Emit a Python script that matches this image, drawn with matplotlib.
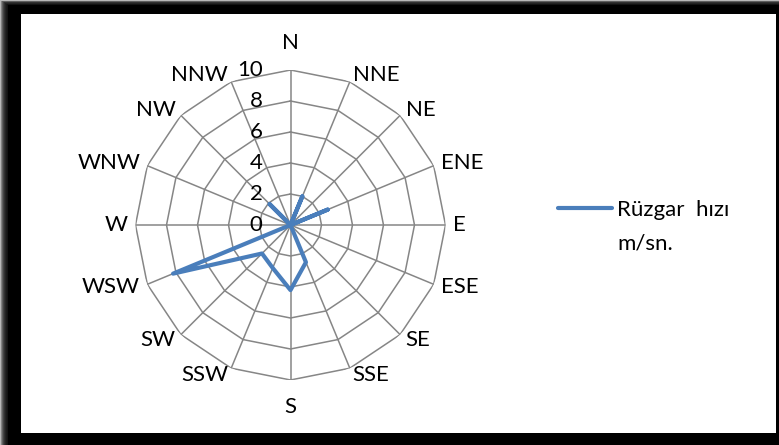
import numpy as np
import matplotlib
matplotlib.use('Agg')
import matplotlib.pyplot as plt
from matplotlib.patches import Rectangle
from matplotlib.lines import Line2D

# Wind speed by direction (m/sn.)
directions = ['N', 'NNE', 'NE', 'ENE', 'E', 'ESE', 'SE', 'SSE',
              'S', 'SSW', 'SW', 'WSW', 'W', 'WNW', 'NW', 'NNW']
speeds = [0, 2.0, 0, 2.6, 0, 0, 0, 2.6, 4.2, 3.0, 2.6, 8.2, 0, 0, 1.9, 0]
rings = [0, 2, 4, 6, 8, 10]
series_name = 'Rüzgar  hızı'
series_unit = 'm/sn.'

plt.rcParams['font.family'] = ['Lato', 'DejaVu Sans']
FS = 16
W, H = 779, 445

fig = plt.figure(figsize=(W / 100, H / 100), dpi=100)
fig.patch.set_facecolor('white')

def px_rect(x0, y0, x1, y1, **kw):
    # rectangle in pixel coords, y measured from top
    return Rectangle((x0 / W, 1 - y1 / H), (x1 - x0) / W, (y1 - y0) / H,
                     transform=fig.transFigure, **kw)

# black frame with soft outer edge
for i in range(9):
    fig.add_artist(px_rect(i, i * 0.6, W, H, facecolor='black',
                           edgecolor='none', alpha=0.28, zorder=0))
fig.add_artist(px_rect(8, 5, W, H, facecolor='black', edgecolor='none', zorder=0))
fig.add_artist(px_rect(21, 14, 776, 433, facecolor='white', edgecolor='none', zorder=0))

# polar axes, centre (290, 225) px, radius 155 px
cx, cy, R = 290.5, 225, 155
ax = fig.add_axes([(cx - R) / W, (H - cy - R) / H, 2 * R / W, 2 * R / H],
                  projection='polar')
ax.set_theta_zero_location('N')
ax.set_theta_direction(-1)
ax.set_ylim(0, 10)
ax.grid(False)
ax.spines['polar'].set_visible(False)
ax.patch.set_alpha(0)
ax.set_xticks([])
ax.set_yticks([])

theta = np.linspace(0, 2 * np.pi, len(directions), endpoint=False)
theta_closed = np.append(theta, theta[0])

grid_col = '#868686'
for r in rings[1:]:
    ax.plot(theta_closed, [r] * len(theta_closed), color=grid_col, lw=1.1, zorder=1)
for t in theta:
    ax.plot([t, t], [0, 10], color=grid_col, lw=1.1, zorder=1)

vals = np.append(speeds, speeds[0])
ax.plot(theta_closed, vals, color='#4a7ebb', lw=3.0, zorder=3,
        solid_joinstyle='round', solid_capstyle='round')

# radial tick labels, left of the N axis
for r in rings:
    ax.annotate(str(r), xy=(0, r), xytext=(-28, 0), textcoords='offset pixels',
                ha='right', va='center', fontsize=FS, zorder=4)

# direction labels
for t, name in zip(theta, directions):
    s, c = np.sin(t), np.cos(t)
    if abs(s) < 0.01:
        ha = 'center'
        va = 'bottom' if c > 0 else 'top'
        rr = 11.1
    else:
        ha = 'left' if s > 0 else 'right'
        va = 'center'
        rr = 10.5
    ax.text(t, rr, name, ha=ha, va=va, fontsize=FS)

# legend
fig.add_artist(Line2D([558 / W, 612 / W], [1 - 208 / H, 1 - 208 / H],
                      color='#4a7ebb', lw=3.0, solid_capstyle='round',
                      transform=fig.transFigure))
fig.text(617 / W, 1 - 216 / H, series_name, ha='left', va='baseline', fontsize=FS)
fig.text(617 / W, 1 - 249.5 / H, series_unit, ha='left', va='baseline', fontsize=FS)

plt.savefig('out.png', dpi=100)
